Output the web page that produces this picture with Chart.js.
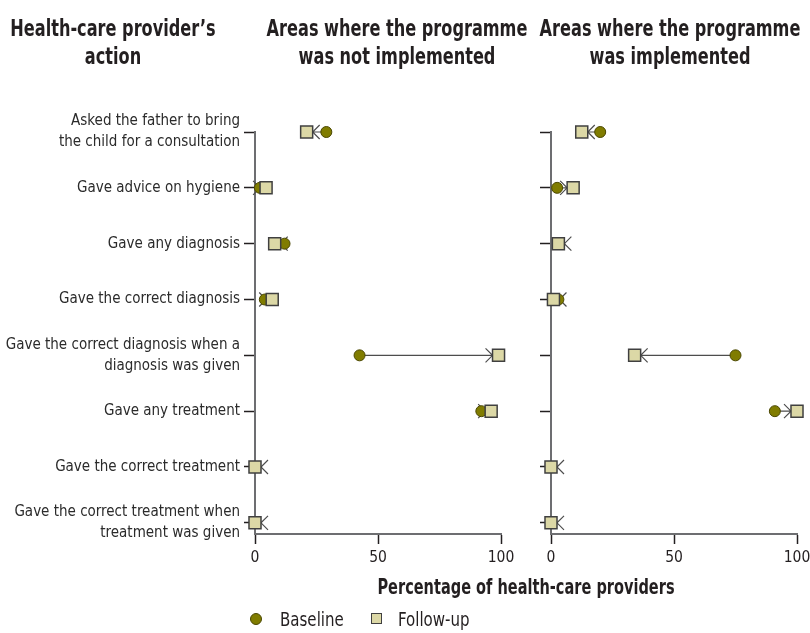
<!DOCTYPE html>
<html>
<head>
<meta charset="utf-8">
<script src="https://cdn.jsdelivr.net/npm/chart.js@4.4.1/dist/chart.umd.min.js"></script>
<style>
  body { margin: 0; background: #fff; }
  #wrap { position: relative; width: 810px; height: 633px; overflow: hidden;
          font-family: 'DejaVu Sans Condensed', 'DejaVu Sans', sans-serif; color: #231f20; }
  canvas { position: absolute; left: 0; top: 0; }
  .head { position: absolute; top: 14px; width: 400px; text-align: center; font-weight: bold;
          font-size: 23px; line-height: 28px; white-space: nowrap;
          transform: scaleX(0.78); transform-origin: 50% 50%; }
  .xtitle { position: absolute; left: 326px; width: 400px; top: 575px; text-align: center;
            font-weight: bold; font-size: 21px; line-height: 24px; white-space: nowrap;
            transform: scaleX(0.77); transform-origin: 50% 50%; }
  .legend { position: absolute; top: 607px; left: 0; font-size: 19px; line-height: 24px; }
  .dot { position: absolute; width: 10px; height: 10px; border-radius: 50%;
         background: #807c00; border: 1px solid #4a4700; }
  .sq { position: absolute; width: 9px; height: 9px; background: #dcd8a6; border: 1.5px solid #404040; }
  .lt { position: absolute; white-space: nowrap; transform: scaleX(0.88); transform-origin: 0 50%; }
</style>
</head>
<body>
<div id="wrap">
  <canvas id="left" width="810" height="633"></canvas>
  <canvas id="right" width="830" height="633"></canvas>
  <div class="head" style="left:-87px">Health-care provider’s<br>action</div>
  <div class="head" style="left:197px">Areas where the programme<br>was not implemented</div>
  <div class="head" style="left:470px">Areas where the programme<br>was implemented</div>
  <div class="xtitle">Percentage of health-care providers</div>
  <div class="legend">
    <div class="dot" style="left:250px;top:6px"></div>
    <div class="lt" style="left:280px;top:0">Baseline</div>
    <div class="sq" style="left:371px;top:6px"></div>
    <div class="lt" style="left:398px;top:0">Follow-up</div>
  </div>
</div>
<script>
const categories = [
  ['Asked the father to bring', 'the child for a consultation'],
  'Gave advice on hygiene',
  'Gave any diagnosis',
  'Gave the correct diagnosis',
  ['Gave the correct diagnosis when a', 'diagnosis was given'],
  'Gave any treatment',
  'Gave the correct treatment',
  ['Gave the correct treatment when', 'treatment was given']
];
const xTicks = [0, 50, 100];

// areas where the programme was not implemented
const notImplBaseline = [29, 2, 12, 4, 42.5, 92, 0, 0];
const notImplFollowup = [21, 4.5, 8, 7, 99, 96, 0, 0];
// areas where the programme was implemented
const implBaseline = [20, 2.5, 3, 3, 75, 91, 0, 0];
const implFollowup = [12.5, 9, 3, 1, 34, 100, 0, 0];

Chart.defaults.font.family = "'DejaVu Sans Condensed', 'DejaVu Sans', sans-serif";
Chart.defaults.color = '#231f20';

function arrows(base, follow) {
  return {
    id: 'arrows',
    beforeDatasetsDraw(chart) {
      const { ctx, scales: { x, y } } = chart;
      ctx.save();
      ctx.strokeStyle = '#4d4d4d';
      ctx.lineWidth = 1.2;
      base.forEach((b, i) => {
        const f = follow[i];
        const x0 = x.getPixelForValue(b);
        const x1 = x.getPixelForValue(f);
        const yy = y.getPixelForValue(i);
        const d = f > b ? 1 : -1;
        const tip = x1 - d * 6;
        ctx.beginPath();
        if ((tip - x0) * d > 0) { ctx.moveTo(x0, yy); ctx.lineTo(tip, yy); }
        ctx.moveTo(tip - d * 7, yy - 7);
        ctx.lineTo(tip, yy);
        ctx.lineTo(tip - d * 7, yy + 7);
        ctx.stroke();
      });
      ctx.restore();
    }
  };
}

function makePanel(id, base, follow, axisLeft, padRight, showLabels) {
  new Chart(document.getElementById(id), {
    type: 'scatter',
    data: {
      datasets: [{
        label: 'Follow-up',
        data: follow.map((v, i) => ({ x: v, y: i })),
        pointStyle: 'rect',
        pointRadius: 8.5,
        backgroundColor: '#dcd8a6',
        borderColor: '#404040',
        borderWidth: 1.5,
        order: 0,
        clip: false
      }, {
        label: 'Baseline',
        data: base.map((v, i) => ({ x: v, y: i })),
        pointStyle: 'circle',
        pointRadius: 5.5,
        backgroundColor: '#807c00',
        borderColor: '#4a4700',
        borderWidth: 1,
        order: 1,
        clip: false
      }]
    },
    options: {
      responsive: false,
      animation: false,
      layout: { padding: { left: 0, right: padRight, top: 132, bottom: 59 } },
      plugins: { legend: { display: false }, tooltip: { enabled: false } },
      scales: {
        x: {
          type: 'linear',
          min: 0,
          max: 100,
          afterBuildTicks: axis => { axis.ticks = xTicks.map(v => ({ value: v })); },
          afterFit: axis => { axis.height = 40; },
          ticks: { font: { size: 15.5 }, padding: 5, color: '#231f20' },
          grid: { drawOnChartArea: false, tickLength: 10, tickColor: '#231f20', tickWidth: 1.5 },
          border: { color: '#6d6e71', width: 2 }
        },
        y: {
          type: 'linear',
          reverse: true,
          min: 0,
          max: 7.2,
          afterBuildTicks: axis => { axis.ticks = categories.map((c, i) => ({ value: i })); },
          afterFit: axis => { axis.width = axisLeft; },
          ticks: {
            callback: v => showLabels ? categories[v] : '',
            font: { size: 15, lineHeight: '21px' },
            padding: 4,
            color: '#2b2b2b'
          },
          grid: { drawOnChartArea: false, tickLength: 11, tickColor: '#231f20', tickWidth: 1.5 },
          border: { color: '#6d6e71', width: 2 }
        }
      }
    },
    plugins: [arrows(base, follow)]
  });
}

makePanel('left', notImplBaseline, notImplFollowup, 255, 309, true);
makePanel('right', implBaseline, implFollowup, 551, 33, false);
</script>
</body>
</html>
